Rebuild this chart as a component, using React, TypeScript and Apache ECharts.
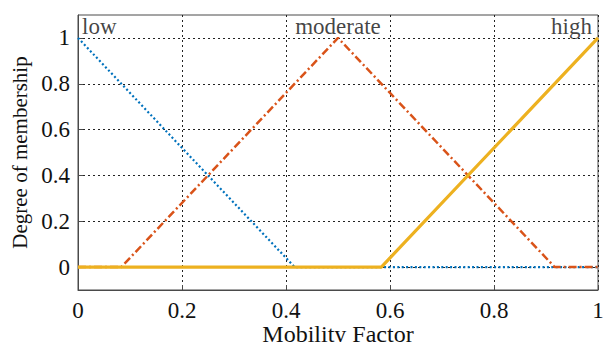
import React, { useEffect, useRef } from "react";
import * as echarts from "echarts";

// Membership functions of the mobility factor (breakpoints in x, membership in y)
const lowX = [0, 0.4167, 1];
const lowY = [1, 0, 0];
const moderateX = [0, 0.0833, 0.5, 0.9167, 1];
const moderateY = [0, 0, 1, 0, 0];
const highX = [0, 0.5833, 1];
const highY = [0, 0, 1];

const setNames = ["low", "moderate", "high"];
const setNameX = [0, 0.5, 1];

const tickValues = [0, 0.2, 0.4, 0.6, 0.8, 1];

const FONT = "'Liberation Serif', 'DejaVu Serif', serif";

const pairs = (xs: number[], ys: number[]) => xs.map((x, i) => [x, ys[i]]);

export default function App() {
  const ref = useRef<HTMLDivElement>(null);

  useEffect(() => {
    if (!ref.current) return;
    const chart = echarts.init(ref.current, undefined, { renderer: "svg" });
    const gridLine = { show: true, lineStyle: { color: "#222", width: 1, type: [2, 3] as any } };
    const axisLine = { show: true, onZero: false, lineStyle: { color: "#4a4a4a", width: 1 } };
    chart.setOption({
      animation: false,
      backgroundColor: "#fff",
      grid: {
        left: 78,
        right: 5,
        top: 15,
        bottom: 52,
        outerBoundsMode: "none",
        containLabel: false,
        show: true,
        borderColor: "#4a4a4a",
        borderWidth: 1,
      },
      xAxis: {
        type: "value",
        min: 0,
        max: 1,
        interval: 0.2,
        name: "Mobility Factor",
        nameLocation: "middle",
        nameGap: 32,
        nameMoveOverlap: false,
        nameTextStyle: { fontFamily: FONT, fontSize: 24, lineHeight: 24, color: "#111" },
        axisLine,
        axisTick: { show: true, inside: true, length: 5, lineStyle: { color: "#4a4a4a" } },
        axisLabel: {
          fontFamily: FONT,
          fontSize: 23,
          lineHeight: 20,
          color: "#111",
          margin: 10,
          formatter: (v: number) => String(Math.round(v * 10) / 10),
        },
        splitLine: gridLine,
      },
      yAxis: {
        type: "value",
        min: -0.1,
        max: 1.1,
        name: "Degree of membership",
        nameLocation: "middle",
        nameGap: 48,
        nameMoveOverlap: false,
        nameTextStyle: { fontFamily: FONT, fontSize: 21, color: "#111" },
        axisLine,
        axisTick: {
          show: true,
          inside: true,
          length: 5,
          customValues: tickValues,
          lineStyle: { color: "#4a4a4a" },
        },
        axisLabel: {
          fontFamily: FONT,
          fontSize: 23,
          color: "#111",
          margin: 8,
          customValues: tickValues,
          formatter: (v: number) => String(Math.round(v * 10) / 10),
        },
        splitLine: gridLine,
      },
      series: [
        {
          name: "low",
          type: "line",
          data: pairs(lowX, lowY),
          symbol: "none",
          lineStyle: { color: "#0072BD", width: 2.2, type: [2, 2.4] as any },
          z: 2,
        },
        {
          name: "moderate",
          type: "line",
          data: pairs(moderateX, moderateY),
          symbol: "none",
          lineStyle: { color: "#D95319", width: 2.5, type: [8, 3, 2, 3] as any },
          z: 3,
        },
        {
          name: "high",
          type: "line",
          data: pairs(highX, highY),
          symbol: "none",
          lineStyle: { color: "#EDB120", width: 3.2 },
          z: 4,
        },
        {
          type: "scatter",
          symbolSize: 0,
          z: 5,
          silent: true,
          data: setNames.map((n, i) => ({
            value: [setNameX[i], 1.1],
            name: n,
            label: {
              position: i === 0 ? [4, 0] : i === 1 ? [0, 0] : [-6, 0],
              align: i === 0 ? "left" : i === 1 ? "center" : "right",
            },
          })),
          label: {
            show: true,
            formatter: (p: any) => p.name,
            verticalAlign: "top",
            fontFamily: FONT,
            fontSize: 23,
            color: "#111",
          },
        },
      ],
    });
    return () => chart.dispose();
  }, []);

  return (
    <div
      ref={ref}
      style={{ position: "fixed", left: 0, top: 0, width: 603, height: 342 }}
    />
  );
}
